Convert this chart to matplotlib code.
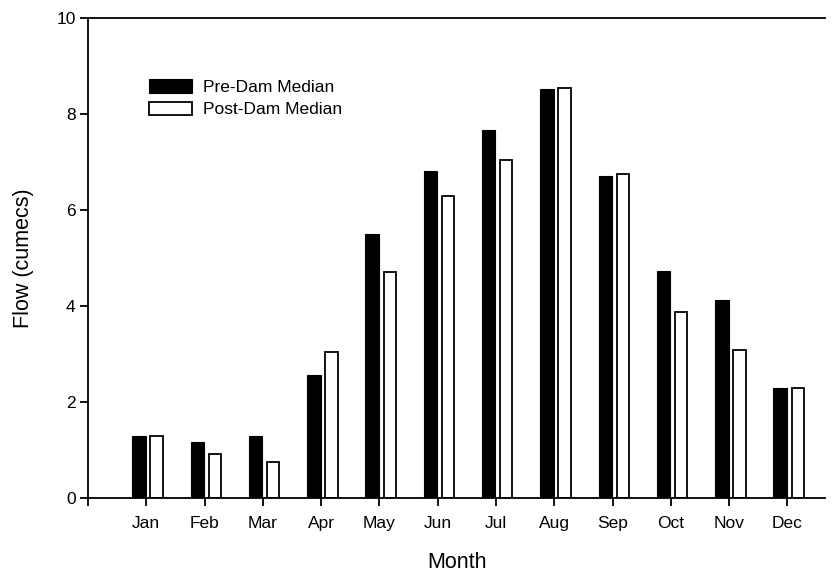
import numpy as np
import matplotlib.pyplot as plt
from matplotlib.ticker import MultipleLocator

plt.rcParams['font.family'] = ['Liberation Sans', 'DejaVu Sans']

months = ['Jan', 'Feb', 'Mar', 'Apr', 'May', 'Jun',
          'Jul', 'Aug', 'Sep', 'Oct', 'Nov', 'Dec']
pre_dam = [1.29, 1.17, 1.29, 2.56, 5.50, 6.80, 7.67, 8.51, 6.71, 4.72, 4.13, 2.30]
post_dam = [1.28, 0.91, 0.74, 3.04, 4.71, 6.29, 7.04, 8.54, 6.75, 3.88, 3.09, 2.29]

x = np.arange(1, len(months) + 1)

fig = plt.figure(figsize=(8.35, 5.75), dpi=100)
ax = fig.add_axes([0.1054, 0.134, 0.883, 0.835])

ax.bar(x - 0.126, pre_dam, width=0.23, color='black', edgecolor='black',
       linewidth=0.8, label='Pre-Dam Median')
ax.bar(x + 0.177, post_dam, width=0.21, color='white', edgecolor='black',
       linewidth=1.3, label='Post-Dam Median')

ax.set_xlim(0, 12.65)
ax.set_ylim(0, 10)
ax.set_xticks(np.arange(0, 13))
ax.set_xticklabels([''] + months)
ax.yaxis.set_major_locator(MultipleLocator(2))

ax.spines['right'].set_visible(False)
for s in ['left', 'bottom', 'top']:
    ax.spines[s].set_linewidth(1.3)
ax.tick_params(direction='out', length=6, width=1.3, labelsize=12.5, pad=3)
ax.tick_params(axis='x', pad=7)

ax.set_xlabel('Month', fontsize=15.5, labelpad=15)
ax.set_ylabel('Flow (cumecs)', fontsize=15.5, labelpad=16)

ax.legend(loc='upper left', bbox_to_anchor=(0.083, 0.872), frameon=False,
          fontsize=12.5, handlelength=2.47, handleheight=0.8, handletextpad=0.63,
          labelspacing=0.38, borderpad=0, borderaxespad=0)

fig.savefig('out.png', dpi=100)
